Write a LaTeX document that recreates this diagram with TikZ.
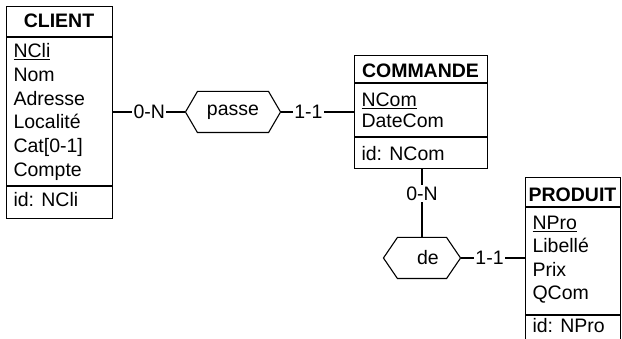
\documentclass[tikz,border=0pt]{standalone}
\usepackage{fontspec}
\setmainfont{Liberation Sans}
\usetikzlibrary{positioning}
\newcommand\erfont{\fontsize{19.5}{23}\selectfont}
% flattened hexagon around a relation node
\newcommand\hexarel[2]{%
  \draw (#1.west) -- ([xshift=#2]#1.north west) -- ([xshift=-#2]#1.north east)
    -- (#1.east) -- ([xshift=-#2]#1.south east) -- ([xshift=#2]#1.south west) -- cycle;}
\begin{document}
\begin{tikzpicture}[x=1pt, y=-1pt, font=\erfont, line width=1.1pt,
    entity/.style={draw, inner sep=0pt, anchor=north west},
    head/.style={anchor=base, inner sep=0pt, font=\erfont\bfseries},
    attr/.style={anchor=base west, inner sep=0pt},
    rel/.style={inner sep=0pt},
    card/.style={fill=white, inner sep=1.5pt}]
  \useasboundingbox (0,0) rectangle (622,339);
  \clip (0,0) rectangle (622,339);

  % CLIENT
  \node[entity, minimum width=106, minimum height=212] (client) at (6,6) {};
  \node[head] (clienthd) at (59,28) {CLIENT};
  \draw ([yshift=-31]client.north west) -- ([yshift=-31]client.north east);
  \draw ([yshift=-180]client.north west) -- ([yshift=-180]client.north east);
  \foreach \t/\y [count=\i] in {\underline{NCli}/58, Nom/82, Adresse/106,
      Localité/129, Cat[0-1]/153, Compte/177, id: NCli/207}
    \node[attr] (cli\i) at (13,\y) {\t};

  % COMMANDE
  \node[entity, minimum width=133, minimum height=113] (commande) at (354,55) {};
  \node[head] (commandehd) at (420.5,78) {COMMANDE};
  \draw ([yshift=-28]commande.north west) -- ([yshift=-28]commande.north east);
  \draw ([yshift=-82]commande.north west) -- ([yshift=-82]commande.north east);
  \foreach \t/\y [count=\i] in {\underline{NCom}/107, DateCom/128, id: NCom/161}
    \node[attr] (com\i) at (361,\y) {\t};

  % PRODUIT
  \node[entity, minimum width=95, minimum height=180] (produit) at (525,177) {};
  \node[head] (produithd) at (572.5,202) {PRODUIT};
  \draw ([yshift=-30]produit.north west) -- ([yshift=-30]produit.north east);
  \draw ([yshift=-138]produit.north west) -- ([yshift=-138]produit.north east);
  \foreach \t/\y [count=\i] in {\underline{NPro}/230, Libellé/253, Prix/277,
      QCom/300, id: NPro/333}
    \node[attr] (pro\i) at (532,\y) {\t};

  % relations
  \node[rel, minimum width=94, minimum height=40] (passe) at (233,112) {passe};
  \hexarel{passe}{12}
  \node[rel, minimum width=76, minimum height=40] (de) at (422,258) {\hspace{12pt}de};
  \hexarel{de}{14}

  % connectors
  \draw (client.east |- passe) -- (passe.west) node[card, pos=0.5] (c1) {0-N};
  \draw (passe.east) -- (passe.east -| commande.west) node[card, pos=0.38] (c2) {1-1};
  \draw (de.north |- commande.south) -- (de.north) node[card, pos=0.36] (c3) {0-N};
  \draw (de.east) -- (de.east -| produit.west) node[card, pos=0.45] (c4) {1-1};
\end{tikzpicture}
\end{document}
